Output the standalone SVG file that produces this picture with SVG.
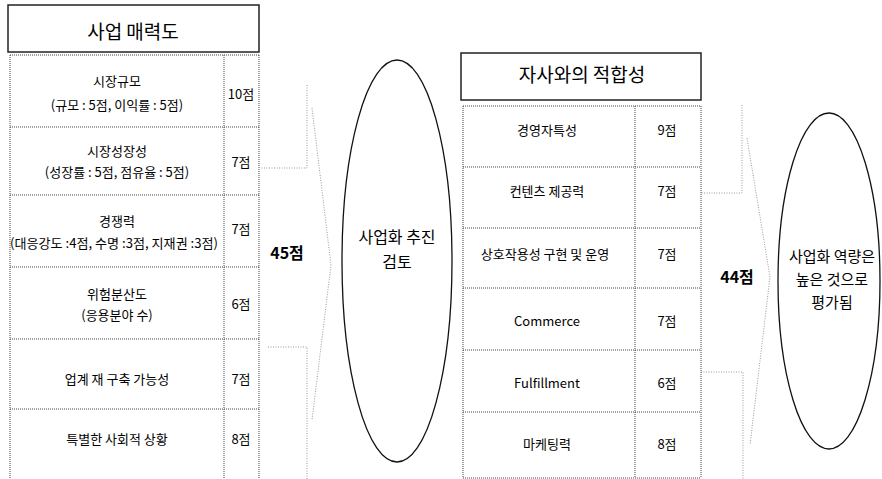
<svg xmlns="http://www.w3.org/2000/svg" width="882" height="479" viewBox="0 0 882 479">
<style>
.t{font-family:"Noto Sans CJK KR","Noto Sans",sans-serif;fill:#000;text-anchor:middle}
.cell{font-size:13px}
.title{font-size:19px}
.big{font-size:16px;font-weight:bold}
.mid{font-size:16px}
.res{font-size:15px}
.tb{fill:none;stroke:#444;stroke-width:1;stroke-dasharray:1 1}
.hdr{fill:#fff;stroke:#222;stroke-width:1.5}
.br{fill:none;stroke:#999;stroke-width:1;stroke-dasharray:1 1.5}
.ell{fill:#fff;stroke:#111;stroke-width:1.3}
</style>
<rect width="882" height="479" fill="#fff"/>
<g id="left-title">
<rect class="hdr" x="8" y="5" width="251" height="47"/>
<text class="t title" x="133" y="39">사업 매력도</text>
</g>
<g id="left-table">
<path class="tb" d="M10 55H259M10 127H259M10 195H259M10 267H259M10 339H259M10 409H259M10 55V479M224 55V479M259 55V479"/>
<text class="t cell" x="117" y="86">시장규모</text>
<text class="t cell" x="117" y="110">(규모 : 5점, 이익률 : 5점)</text>
<text class="t cell" x="241" y="99">10점</text>
<text class="t cell" x="117" y="156">시장성장성</text>
<text class="t cell" x="117" y="177">(성장률 : 5점, 점유율 : 5점)</text>
<text class="t cell" x="241" y="167">7점</text>
<text class="t cell" x="117" y="226">경쟁력</text>
<text class="t cell" x="114" y="248" textLength="208" lengthAdjust="spacingAndGlyphs">(대응강도 :4점, 수명 :3점, 지재권 :3점)</text>
<text class="t cell" x="241" y="234">7점</text>
<text class="t cell" x="117" y="299">위험분산도</text>
<text class="t cell" x="117" y="320">(응용분야 수)</text>
<text class="t cell" x="241" y="309">6점</text>
<text class="t cell" x="117" y="384">업계 재 구축 가능성</text>
<text class="t cell" x="241" y="384">7점</text>
<text class="t cell" x="117" y="444">특별한 사회적 상황</text>
<text class="t cell" x="241" y="444">8점</text>
</g>
<g id="connectors">
<path class="br" d="M307 85V168H260M312 108L331 265L312 420M268 347H307V479"/>
<path class="br" d="M742 105V193H701M747 138L770 277L750 445M701 372H743V479"/>
</g>
<g id="score-left">
<text class="t big" x="287" y="259">45점</text>
</g>
<g id="review">
<ellipse class="ell" cx="397" cy="261" rx="55" ry="201"/>
<text class="t mid" x="397" y="243">사업화 추진</text>
<text class="t mid" x="397" y="268">검토</text>
</g>
<g id="right-title">
<rect class="hdr" x="461" y="53" width="240" height="47"/>
<text class="t title" x="582" y="82">자사와의 적합성</text>
</g>
<g id="right-table">
<path class="tb" d="M463 106H701M463 167H701M463 228H701M463 288H701M463 350H701M463 412H701M463 478H701M463 106V478M635 106V478M701 106V478"/>
<text class="t cell" x="547" y="135">경영자특성</text>
<text class="t cell" x="667" y="135">9점</text>
<text class="t cell" x="547" y="196">컨텐츠 제공력</text>
<text class="t cell" x="667" y="196">7점</text>
<text class="t cell" x="545" y="259">상호작용성 구현 및 운영</text>
<text class="t cell" x="667" y="259">7점</text>
<text class="t cell" x="547" y="326">Commerce</text>
<text class="t cell" x="667" y="326">7점</text>
<text class="t cell" x="547" y="388">Fulfillment</text>
<text class="t cell" x="667" y="388">6점</text>
<text class="t cell" x="547" y="449">마케팅력</text>
<text class="t cell" x="667" y="449">8점</text>
</g>
<g id="score-right">
<text class="t big" x="737" y="283">44점</text>
</g>
<g id="result">
<ellipse class="ell" cx="829" cy="281" rx="51" ry="168"/>
<text class="t res" x="832" y="262">사업화 역량은</text>
<text class="t res" x="832" y="285">높은 것으로</text>
<text class="t res" x="832" y="308">평가됨</text>
</g>
</svg>
